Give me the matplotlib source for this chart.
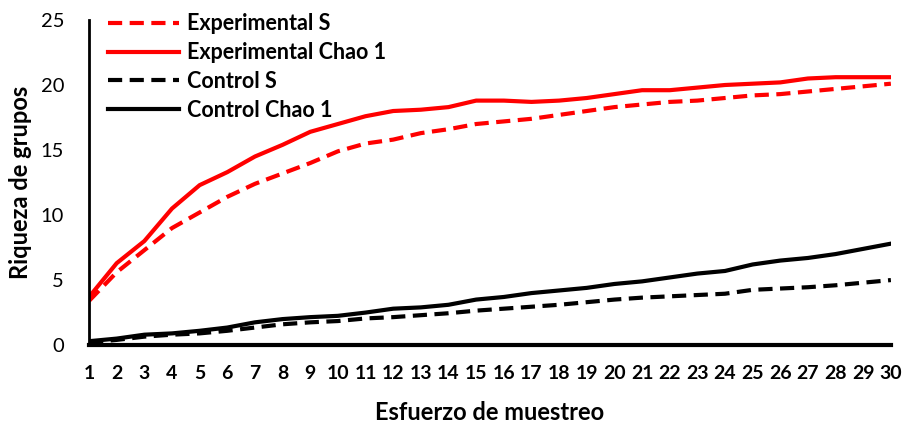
import matplotlib
matplotlib.use("Agg")
import matplotlib.pyplot as plt

plt.rcParams['font.family'] = ['Lato', 'DejaVu Sans']

esfuerzo = list(range(1, 31))
exp_s = [3.4, 5.6, 7.3, 9.0, 10.2, 11.4, 12.4, 13.2, 14.0, 14.9, 15.5, 15.8, 16.3, 16.6, 17.0,
         17.2, 17.4, 17.7, 18.0, 18.3, 18.5, 18.7, 18.8, 19.0, 19.2, 19.3, 19.5, 19.7, 19.9, 20.1]
exp_chao = [3.7, 6.3, 8.0, 10.5, 12.3, 13.3, 14.5, 15.4, 16.4, 17.0, 17.6, 18.0, 18.1, 18.3, 18.8,
            18.8, 18.7, 18.8, 19.0, 19.3, 19.6, 19.6, 19.8, 20.0, 20.1, 20.2, 20.5, 20.6, 20.6, 20.6]
ctrl_s = [0.2, 0.4, 0.65, 0.8, 0.9, 1.1, 1.35, 1.6, 1.75, 1.85, 2.05, 2.15, 2.3, 2.45, 2.65,
          2.8, 2.95, 3.1, 3.3, 3.5, 3.65, 3.75, 3.85, 3.95, 4.25, 4.35, 4.45, 4.6, 4.8, 5.0]
ctrl_chao = [0.3, 0.5, 0.8, 0.9, 1.1, 1.35, 1.75, 2.0, 2.15, 2.25, 2.5, 2.8, 2.9, 3.1, 3.5,
             3.7, 4.0, 4.2, 4.4, 4.7, 4.9, 5.2, 5.5, 5.7, 6.2, 6.5, 6.7, 7.0, 7.4, 7.8]
x_labels = [str(v) for v in esfuerzo]

fig = plt.figure(figsize=(9.04, 4.25), dpi=100)
ax = fig.add_axes([0.0985, 0.188, 0.887, 0.765])

lw = 3.0
dash = (0, (3.4, 1.8))
ax.plot(esfuerzo, exp_s, color='#ff0000', lw=lw, ls=dash, label='Experimental S')
ax.plot(esfuerzo, exp_chao, color='#ff0000', lw=lw, label='Experimental Chao 1')
ax.plot(esfuerzo, ctrl_s, color='black', lw=lw, ls=dash, label='Control S')
ax.plot(esfuerzo, ctrl_chao, color='black', lw=lw, label='Control Chao 1')

ax.set_xlim(1, 30)
ax.set_ylim(0, 25)
ax.set_yticks([0, 5, 10, 15, 20, 25])
ax.set_xticks(esfuerzo)
ax.set_xticklabels(x_labels, fontweight='bold')
ax.tick_params(axis='x', length=0, labelsize=14, pad=14)
ax.tick_params(axis='y', length=0, labelsize=14.5, pad=18)

for side in ['top', 'right']:
    ax.spines[side].set_visible(False)
ax.spines['left'].set_linewidth(2)
ax.spines['bottom'].set_linewidth(3)

ax.set_xlabel('Esfuerzo de muestreo', fontsize=17, fontweight='bold', labelpad=14)
ax.set_ylabel('Riqueza de grupos', fontsize=17, fontweight='bold', labelpad=6)

leg = ax.legend(loc='upper left', bbox_to_anchor=(0.008, 1.06), frameon=False,
                prop={'size': 15.5, 'weight': 'bold'}, handlelength=3.3,
                handletextpad=0.35, labelspacing=0.36, borderaxespad=0.2)

fig.savefig('out.png', dpi=100)
